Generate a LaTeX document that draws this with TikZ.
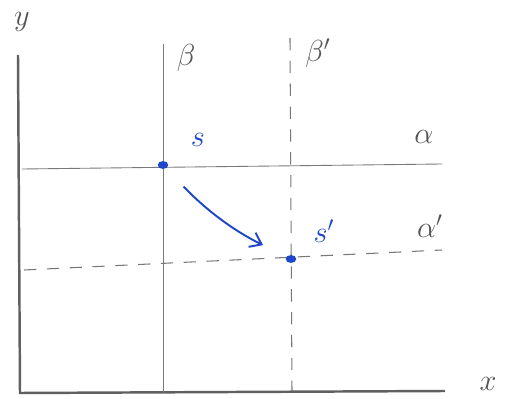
\documentclass[tikz,border=0pt]{standalone}
\usepackage{amsmath,amssymb}
\usepackage{xcolor}
\usepackage{tikz}
\usetikzlibrary{arrows.meta,shapes.geometric}

\definecolor{pencil}{RGB}{120,120,120}
\definecolor{ink}{RGB}{30,70,200}

\begin{document}
\begin{tikzpicture}[
    x=0.02cm, y=-0.02cm,
    axis/.style={draw=pencil!80!black,line width=1.4pt},
    grid line/.style={draw=pencil,line width=0.5pt},
    moved line/.style={draw=pencil,line width=0.6pt,dash pattern=on 7pt off 6pt},
    pt/.style={ellipse,fill=ink,inner sep=0pt,minimum width=6pt,minimum height=4.5pt},
    lbl/.style={font=\LARGE,text=pencil!70!black},
    move/.style={draw=ink,line width=1.1pt,-{Straight Barb[length=6pt,width=9pt]}}
  ]
    \useasboundingbox (0,0) rectangle (505,399);
    % axes
    \coordinate (o) at (20,393);
    \coordinate (ytop) at (18,55);
    \coordinate (xend) at (445,391);
    \draw[axis] (ytop) -- (o) -- (xend);
    \node[lbl] (ylab) at (22,22) {$y$};
    \node[lbl] (xlab) at (488,384) {$x$};
    % original lines
    \coordinate (b0) at (163,44);
    \coordinate (b1) at (163,393);
    \coordinate (a0) at (22,169);
    \coordinate (a1) at (442,164);
    \draw[grid line] (b0) -- (b1);
    \draw[grid line] (a0) -- (a1);
    \node[lbl] (beta) at (186,58) {$\beta$};
    \node[lbl] (alpha) at (424,137) {$\alpha$};
    % moved lines
    \coordinate (bb0) at (290,38);
    \coordinate (bb1) at (292,391);
    \coordinate (aa0) at (24,270);
    \coordinate (aa1) at (442,250);
    \draw[moved line] (bb0) -- (bb1);
    \draw[moved line] (aa0) -- (aa1);
    \node[lbl] (betap) at (318,53) {$\beta'$};
    \node[lbl] (alphap) at (430,226) {$\alpha'$};
    % points
    \node[pt] (s) at (163,165) {};
    \node[pt] (sp) at (291,259) {};
    \node[lbl,text=ink] (slab) at (198,140) {$s$};
    \node[lbl,text=ink] (splab) at (324,231) {$s'$};
    \draw[move,shorten <=0.5cm,shorten >=0.52cm] (s) to[bend right=10] (sp);
  \end{tikzpicture}
\end{document}
